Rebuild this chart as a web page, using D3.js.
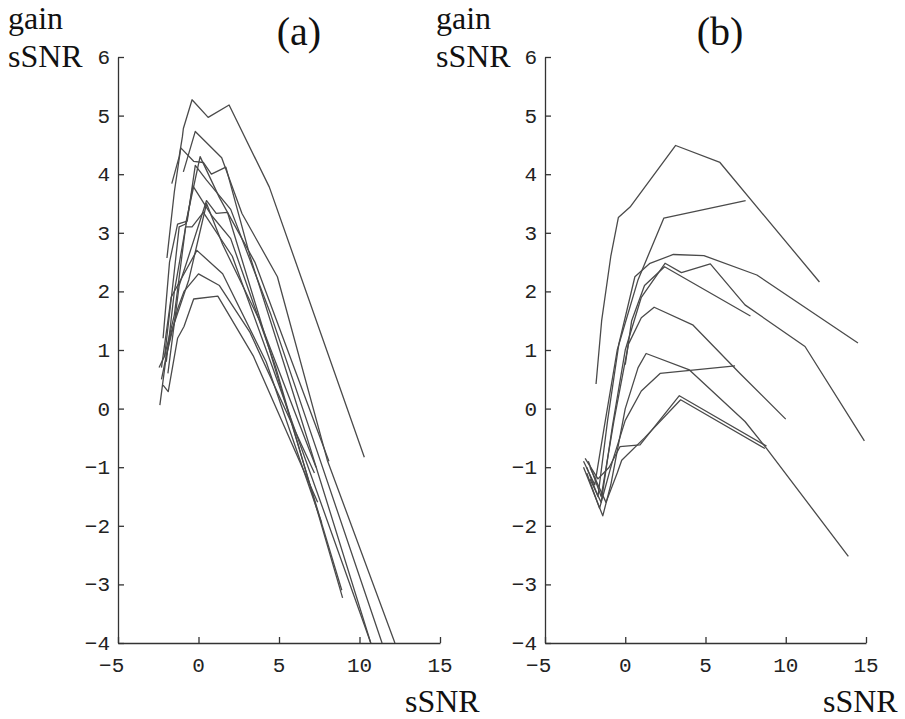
<!DOCTYPE html>
<html>
<head>
<meta charset="utf-8">
<script src="https://cdn.jsdelivr.net/npm/d3@7"></script>
<style>
  html, body { margin: 0; padding: 0; background: #fff; }
  svg { display: block; }
</style>
</head>
<body>
<svg id="chart" width="905" height="719"></svg>
<script>
// Axis ticks shared by both panels
const xTicks = [-5, 0, 5, 10, 15];
const yTicks = [-4, -3, -2, -1, 0, 1, 2, 3, 4, 5, 6];

// Panel (a): gain in sSNR versus input sSNR, one curve per condition
const seriesA = [
  [[-1.66,3.84],[-1.2,4.3],[-1.0,4.64],[-0.94,4.78],[-0.4,5.27],[0.6,4.97],[1.9,5.18],[4.4,3.78],[10.3,-0.83]],
  [[-0.94,4.04],[-0.2,4.73],[1.44,4.28],[2.7,3.33],[4.9,2.25],[8.0,-0.88],[12.2,-4.0]],
  [[-1.96,2.57],[-1.5,3.7],[-1.1,4.45],[-0.3,4.22],[0.3,4.2],[0.8,4.0],[1.7,4.12],[3.2,2.6],[5.5,0.6],[10.7,-4.0]],
  [[-2.2,1.2],[-1.8,2.5],[-1.3,3.15],[-0.7,3.2],[-0.2,4.15],[0.5,3.9],[2.0,3.4],[4.5,1.6],[11.4,-4.0]],
  [[-2.0,0.8],[-1.5,2.0],[-0.35,3.8],[0.8,3.3],[2.0,2.9],[4.8,0.7],[8.95,-3.23]],
  [[-1.9,0.6],[-1.2,2.1],[0.5,3.55],[1.1,3.33],[1.8,3.35],[4.3,1.1],[8.9,-3.1]],
  [[-2.3,0.7],[-1.7,1.9],[-0.1,2.7],[1.5,2.3],[4.2,0.8],[7.65,-1.95]],
  [[-2.4,0.06],[-2.0,0.9],[-1.3,1.7],[-0.9,2.0],[0.0,2.3],[1.3,2.1],[3.2,1.3],[7.2,-1.1]],
  [[-2.2,0.4],[-1.88,0.29],[-1.3,1.2],[-0.9,1.4],[-0.3,1.87],[1.2,1.92],[3.4,0.9],[7.4,-1.6]],
  [[-2.45,0.7],[-2.1,0.9],[-1.6,2.1],[-1.2,3.1],[-0.8,3.15],[0.1,4.3],[1.3,3.6],[3.5,2.5],[8.1,-0.9]],
  [[-2.3,0.5],[-1.7,1.3],[-0.6,2.2],[0.5,3.5],[1.5,2.8],[3.8,1.5],[7.3,-1.0]],
  [[-2.1,0.9],[-1.5,1.6],[-0.8,3.1],[-0.4,3.1],[0.3,3.35],[2.1,2.6],[5.0,0.4],[10.7,-4.0]]
];

// Panel (b): same measure for the second method
const seriesB = [
  [[-1.82,0.42],[-1.47,1.5],[-0.9,2.6],[-0.43,3.26],[0.3,3.44],[3.14,4.49],[5.9,4.2],[12.1,2.16]],
  [[-2.6,-0.9],[-1.9,-1.3],[-1.3,-0.3],[-0.5,1.0],[0.8,2.2],[2.4,3.25],[7.5,3.55]],
  [[-2.4,-1.0],[-1.7,-1.5],[-1.1,-0.2],[-0.4,1.1],[0.6,2.25],[1.54,2.48],[3.0,2.63],[4.9,2.61],[8.2,2.28],[14.5,1.12]],
  [[-2.2,-1.2],[-1.5,-1.6],[-0.8,-0.3],[0.0,1.0],[1.0,1.9],[2.48,2.48],[3.5,2.32],[5.3,2.47],[7.46,1.77],[11.2,1.06],[14.9,-0.55]],
  [[0.0,0.75],[0.4,1.5],[1.2,2.1],[2.45,2.42],[7.8,1.58]],
  [[-2.3,-0.9],[-1.5,-1.5],[-0.7,-0.2],[0.2,1.1],[1.0,1.55],[1.8,1.73],[4.2,1.43],[7.15,0.6],[10.0,-0.18]],
  [[-2.6,-1.0],[-1.4,-1.83],[-0.9,-1.3],[0.0,0.0],[0.8,0.7],[1.3,0.94],[4.0,0.66],[7.46,-0.22],[8.8,-0.68],[13.9,-2.52]],
  [[-2.4,-1.1],[-1.6,-1.7],[-0.8,-0.9],[0.0,-0.2],[1.0,0.3],[2.17,0.6],[6.84,0.73]],
  [[-2.5,-0.85],[-1.7,-1.2],[-1.0,-1.0],[-0.33,-0.65],[0.92,-0.62],[3.37,0.22],[8.8,-0.64]],
  [[-2.2,-1.0],[-1.2,-1.6],[-0.5,-1.1],[-0.22,-0.88],[1.2,-0.5],[3.45,0.15],[8.7,-0.68]]
];

const panelTitles = ["(a)", "(b)"];
const yLabelLines = ["gain", "sSNR"];
const xLabel = "sSNR";

const monoFont = "'Liberation Mono', 'Courier New', Courier, monospace";
const serifFont = "'Liberation Serif', 'DejaVu Serif', serif";

const svg = d3.select("#chart");
const plotTop = 57, plotBottom = 643;

function drawPanel(id, series, left, right, title, titleX, labelX, xLabelX) {
  const x = d3.scaleLinear().domain([-5, 15]).range([left, right]);
  const y = d3.scaleLinear().domain([-4, 6]).range([plotBottom, plotTop]);
  const g = svg.append("g");

  g.append("clipPath").attr("id", "clip-" + id)
    .append("rect").attr("x", left).attr("y", plotTop)
    .attr("width", right - left).attr("height", plotBottom - plotTop);

  const line = d3.line().x(d => x(d[0])).y(d => y(d[1]));
  g.append("g").attr("clip-path", `url(#clip-${id})`)
    .selectAll("path").data(series).join("path")
    .attr("d", line)
    .attr("fill", "none")
    .attr("stroke", "#4a4a4a")
    .attr("stroke-width", 1.3)
    .attr("stroke-linejoin", "round");

  // x axis with inward ticks
  const xAxis = g.append("g").attr("transform", `translate(0,${plotBottom})`)
    .call(d3.axisBottom(x).tickValues(xTicks).tickSize(-6).tickSizeOuter(0).tickFormat(""));
  // y axis with inward ticks
  const yAxis = g.append("g").attr("transform", `translate(${left},0)`)
    .call(d3.axisLeft(y).tickValues(yTicks).tickSize(-6).tickSizeOuter(0).tickFormat(""));
  [xAxis, yAxis].forEach(a => {
    a.select(".domain").attr("stroke", "#333").attr("stroke-width", 1.3);
    a.selectAll(".tick line").attr("stroke", "#333").attr("stroke-width", 1.3);
  });

  // tick labels: digits centred on tick, minus sign hanging left
  const fs = 21, cw = fs * 0.6;
  g.selectAll(".xl").data(xTicks).join("text")
    .attr("font-family", monoFont).attr("font-size", fs).attr("fill", "#222")
    .attr("x", d => x(d) + (d < 0 ? cw / 2 : 0))
    .attr("y", plotBottom + 29)
    .attr("text-anchor", d => d < 0 ? "end" : "middle")
    .text(d => d < 0 ? "\u2212" + Math.abs(d) : d);
  g.selectAll(".yl").data(yTicks).join("text")
    .attr("font-family", monoFont).attr("font-size", fs).attr("fill", "#222")
    .attr("x", left - 8)
    .attr("y", d => y(d) + 7)
    .attr("text-anchor", "end")
    .text(d => d < 0 ? "\u2212" + Math.abs(d) : d);

  g.append("text").attr("font-family", serifFont).attr("fill", "#111")
    .attr("x", titleX).attr("y", 45)
    .attr("text-anchor", "middle").attr("font-size", 40).text(title);
  g.selectAll(".ylab").data(yLabelLines).join("text")
    .attr("font-family", serifFont).attr("fill", "#111")
    .attr("x", labelX).attr("y", (d, i) => 29 + i * 38)
    .attr("font-size", 32).text(d => d);
  g.append("text").attr("font-family", serifFont).attr("fill", "#111")
    .attr("x", xLabelX).attr("y", 712)
    .attr("font-size", 32).text(xLabel);
}

drawPanel("a", seriesA, 118, 440, panelTitles[0], 299, 8, 405);
drawPanel("b", seriesB, 545, 866, panelTitles[1], 720, 436, 823);
</script>
</body>
</html>
